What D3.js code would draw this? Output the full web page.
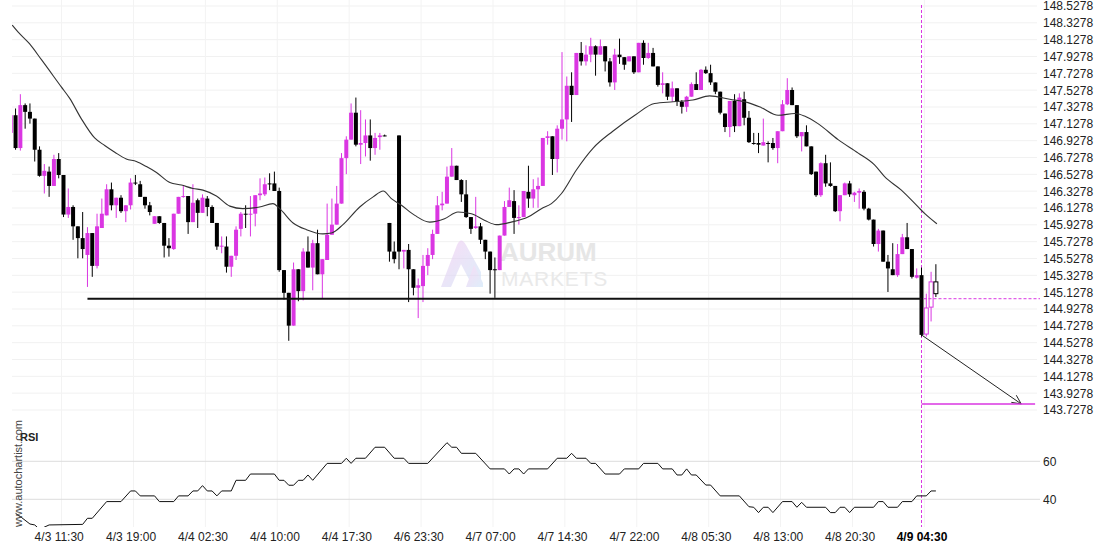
<!DOCTYPE html>
<html>
<head>
<meta charset="utf-8">
<script src="https://cdn.jsdelivr.net/npm/d3@7"></script>
<style>
body { margin: 0; background: #fff; }
svg { display: block; font-family: "Liberation Sans", Arial, sans-serif; }
</style>
</head>
<body>
<div id="chart"></div>
<script>
// 30 min candles, index 0 = first (clipped) candle on the left
const opens = [147.02,147.23,146.84,147.35,147.27,147.19,146.82,146.51,146.56,146.39,146.71,146.52,146.05,146.14,145.91,145.77,145.57,145.83,145.44,145.89,
146.04,146.35,146.16,146.25,146.09,146.16,146.43,146.41,146.26,146.16,145.94,146.03,145.95,145.68,145.64,146.06,146.26,146.27,145.96,146.22,
146.07,146.24,146.14,145.95,145.67,145.67,145.43,145.56,145.88,146.06,146.05,146.06,146.28,146.29,146.42,146.42,146.33,145.39,145.12,144.73,
145.40,145.14,145.61,145.42,145.71,145.34,145.51,145.81,145.93,146.18,146.72,146.94,147.26,146.88,146.90,146.99,146.84,146.97,146.99,145.95,
145.61,146.99,145.61,145.63,145.40,145.18,145.20,145.44,145.57,145.82,146.16,146.18,146.50,146.63,146.46,146.29,146.02,145.89,145.91,145.75,
145.61,145.40,145.39,145.80,146.14,146.21,146.01,146.02,146.32,146.24,146.35,146.39,146.96,146.98,146.71,147.07,147.18,147.58,147.47,147.97,
147.87,147.95,148.05,147.95,148.05,147.87,147.62,147.95,147.92,147.87,147.93,147.74,148.09,147.91,147.97,147.81,147.59,147.61,147.45,147.55,
147.39,147.33,147.45,147.60,147.53,147.77,147.73,147.62,147.51,147.25,147.09,147.40,147.10,147.42,147.20,146.90,146.90,146.87,146.90,146.90,
146.84,147.04,147.36,147.53,147.35,146.98,147.03,146.86,146.56,146.28,146.66,146.42,146.39,146.09,146.28,146.42,146.28,146.31,146.32,146.12,
145.99,145.70,145.86,145.49,145.40,145.33,145.58,145.78,145.64,145.30,145.33,144.63,144.95,145.25];
const highs = [147.25,147.31,147.48,147.37,147.37,147.19,146.86,146.65,146.62,146.76,146.78,146.52,146.36,146.16,145.91,146.08,145.90,145.83,146.06,146.24,
146.41,146.43,146.25,146.28,146.16,146.48,146.52,146.45,146.26,146.20,146.03,146.03,145.95,145.77,146.06,146.26,146.40,146.27,146.41,146.24,
146.29,146.27,146.16,145.95,145.79,145.79,145.56,145.91,146.08,146.16,146.27,146.28,146.48,146.49,146.54,146.56,146.37,145.39,145.12,145.48,
145.40,145.65,145.79,145.75,145.87,145.52,146.18,146.24,146.39,146.78,146.98,147.37,147.44,147.29,147.18,147.18,147.02,147.02,147.00,145.95,
145.73,146.99,145.63,145.70,145.40,145.29,145.57,145.65,145.87,146.27,146.32,146.62,146.84,146.63,146.47,146.46,146.02,146.26,145.95,145.75,
145.61,145.54,145.80,146.21,146.37,146.34,146.16,146.33,146.63,146.47,146.49,146.96,147.04,146.98,147.11,147.98,147.69,147.74,147.97,148.10,
148.06,148.15,148.06,148.13,148.05,147.91,148.02,148.14,147.92,147.93,147.93,148.09,148.12,148.09,148.03,147.81,147.74,147.61,147.63,147.55,
147.41,147.46,147.62,147.74,147.78,147.81,147.83,147.62,147.51,147.25,147.40,147.48,147.49,147.51,147.28,147.02,147.02,147.19,146.92,146.96,
147.04,147.41,147.67,147.56,147.35,147.03,147.11,146.86,146.56,146.67,146.76,146.67,146.39,146.28,146.43,146.45,146.32,146.36,146.34,146.13,
145.99,145.88,145.86,145.57,145.71,145.70,145.82,145.95,145.64,145.41,145.42,145.11,145.37,145.46];
const lows = [147.00,146.82,146.81,147.07,147.13,146.68,146.50,146.30,146.26,146.39,146.48,146.02,146.01,145.75,145.53,145.53,145.19,145.31,145.41,145.89,
146.04,146.10,146.01,146.07,145.96,146.11,146.40,146.26,146.12,146.04,145.94,145.94,145.54,145.55,145.63,146.06,146.25,145.82,145.96,145.89,
146.07,146.03,145.95,145.63,145.59,145.36,145.31,145.51,145.79,145.89,145.79,145.91,146.22,146.27,146.34,146.33,145.37,145.04,144.55,144.73,
145.02,145.03,145.42,145.15,145.34,145.05,145.51,145.81,145.93,146.18,146.53,146.94,146.86,146.65,146.74,146.69,146.76,146.82,146.98,145.49,
145.47,145.40,145.41,145.01,145.09,144.82,145.01,145.33,145.52,145.82,146.10,146.18,146.50,146.46,146.20,146.01,145.82,145.88,145.70,145.52,
145.11,145.06,145.39,145.80,146.14,145.82,145.93,146.02,146.13,146.13,146.13,146.39,146.88,146.52,146.55,146.94,146.92,147.15,147.47,147.82,
147.82,147.86,147.70,147.95,147.75,147.57,147.53,147.84,147.77,147.87,147.72,147.74,147.83,147.90,147.81,147.57,147.49,147.41,147.39,147.34,
147.25,147.27,147.45,147.53,147.53,147.72,147.59,147.48,147.24,147.03,146.97,147.03,147.10,147.11,146.90,146.88,146.78,146.87,146.67,146.82,
146.66,147.04,147.35,147.35,146.96,146.80,146.86,146.52,146.26,146.26,146.38,146.38,146.08,145.97,146.28,146.26,146.20,146.12,146.10,145.98,
145.67,145.61,145.49,145.13,145.33,145.31,145.58,145.64,145.29,145.29,144.60,144.60,144.78,145.07];
const closes = [147.23,146.84,147.35,147.27,147.19,146.82,146.51,146.57,146.39,146.71,146.52,146.05,146.14,145.91,145.77,145.64,145.83,145.44,145.91,146.06,
146.35,146.16,146.25,146.09,146.16,146.43,146.42,146.26,146.16,146.08,146.03,145.95,145.68,145.65,146.06,146.26,146.27,145.96,146.19,146.07,
146.25,146.14,145.95,145.67,145.68,145.43,145.56,145.87,146.06,146.05,146.06,146.28,146.30,146.41,146.41,146.33,145.39,145.12,144.73,145.40,
145.14,145.61,145.42,145.71,145.34,145.52,145.81,145.93,146.18,146.72,146.94,147.26,146.88,146.90,146.99,146.84,146.96,146.99,146.98,145.61,
145.52,145.61,145.63,145.40,145.18,145.21,145.44,145.57,145.82,146.16,146.18,146.50,146.63,146.46,146.29,146.02,145.88,145.91,145.75,145.61,
145.39,145.39,145.80,146.14,146.22,146.01,146.02,146.33,146.24,146.35,146.39,146.96,146.98,146.71,147.07,147.18,147.58,147.47,147.97,147.87,
147.95,148.05,147.95,148.05,147.87,147.62,147.95,147.92,147.83,147.93,147.74,148.09,147.91,147.97,147.81,147.59,147.61,147.45,147.55,147.39,
147.33,147.45,147.60,147.53,147.77,147.73,147.62,147.51,147.26,147.09,147.40,147.10,147.44,147.20,146.91,146.89,146.88,146.91,146.89,146.84,
147.04,147.36,147.53,147.35,146.98,147.03,146.86,146.53,146.28,146.66,146.42,146.39,146.09,146.28,146.42,146.29,146.31,146.33,146.12,145.99,
145.70,145.86,145.49,145.41,145.33,145.58,145.78,145.64,145.31,145.33,144.62,144.94,145.25,145.11];
const liveFrom = 191; // candles after the breakout, drawn hollow

// moving average: candle index / price
const maIdx = [0.3,1.5,3.9,6.4,10.5,12.3,14.7,17.5,19.6,21.7,24.1,26.2,28.3,30.4,33.2,35.6,38.0,40.1,42.9,45.7,48.4,51.9,54.7,56.1,58.9,61.7,65.1,66.9,69.3,72.8,
75.6,77.7,79.4,81.5,84.3,87.4,90.5,93.3,96.1,98.9,101.3,104.4,107.9,110.7,112.8,114.9,118.0,121.5,125.6,130.2,134.3,138.2,142.3,145.8,150.0,153.8,156.6,160.1,163.6,165.6,
168.4,172.6,176.8,180.2,182.3,185.8,189.3,190.7,193.2];
const maVal = [148.30,148.22,148.08,147.89,147.57,147.43,147.19,146.96,146.87,146.79,146.71,146.68,146.62,146.55,146.43,146.40,146.36,146.34,146.27,146.15,146.12,146.14,146.18,146.12,145.95,145.87,145.82,145.83,145.93,146.14,
146.26,146.33,146.24,146.16,146.04,145.96,146.00,146.08,146.06,145.98,145.93,145.96,146.02,146.12,146.18,146.30,146.58,146.84,147.04,147.23,147.37,147.39,147.41,147.46,147.42,147.38,147.32,147.23,147.25,147.22,
147.13,146.94,146.78,146.64,146.50,146.34,146.14,146.06,145.94];

// RSI vertices: candle index / value
const rsiIdx = [1,2,4,5,6,8,15,16,17,20,23,25,26,27,30,31,34,35,37,38,39,40,41,42,43,44,46,47,49,50,55,56,57,58,59,60,61,62,63,66,69,70,71,72,74,76,78,80,82,83,87,91,92,93,94,97,100,103,104,105,106,107,108,112,114,116,117,118,120,121,122,124,127,128,131,132,135,136,138,139,140,141,142,143,145,146,148,152,154,155,156,157,158,159,161,163,164,165,166,170,171,172,173,174,175,176,180,181,182,183,185,186,188,189,191,192,193];
const rsiVal = [32.6,30.9,27.0,26.5,24.2,26.5,26.8,30.0,30.0,38.8,38.8,44.4,44.4,41.8,41.8,38.8,38.8,41.8,41.8,44.4,44.4,47.2,44.4,44.4,41.8,44.4,44.4,50.0,50.0,53.3,53.3,50.0,50.0,47.4,47.4,50.0,50.0,52.8,50.0,58.9,58.9,61.6,58.9,61.6,61.6,67.4,67.4,61.6,61.6,58.9,58.9,69.8,67.4,67.4,64.2,64.2,56.0,56.0,53.3,56.0,56.0,53.3,56.0,56.0,61.6,61.6,64.2,61.6,61.6,58.9,58.9,53.3,53.3,56.0,56.0,58.9,58.9,56.0,56.0,52.8,52.8,56.0,52.8,52.8,47.5,47.5,41.8,41.8,36.1,35.8,33.0,35.8,35.8,33.0,38.8,38.8,35.8,38.4,35.8,35.8,33.0,33.0,35.8,35.8,33.0,35.8,35.8,38.8,38.8,35.8,35.8,38.8,38.8,41.8,41.8,44.4,44.4];

const timeLabels = ['4/3 11:30','4/3 19:00','4/4 02:30','4/4 10:00','4/4 17:30','4/6 23:30','4/7 07:00','4/7 14:30','4/7 22:00','4/8 05:30','4/8 13:00','4/8 20:30','4/9 04:30'];
const timeIdx = [10,25,40,55,70,85,100,115,130,145,160,175,190];
const priceTicks = [148.5278,148.3278,148.1278,147.9278,147.7278,147.5278,147.3278,147.1278,146.9278,146.7278,146.5278,146.3278,146.1278,145.9278,145.7278,145.5278,145.3278,145.1278,144.9278,144.7278,144.5278,144.3278,144.1278,143.9278,143.7278];
const rsiTicks = [40, 60];

// pattern
const supportLevel = 145.05, supportFrom = 16, breakIdx = 190;
const targetLevel = 143.80, arrowEndIdx = 210.8, targetEndIdx = 213.7;

const W = 1110, H = 550;
const left = 12, right = 1040;
const mainBottom = 420, rsiTop = 425, rsiBottom = 527;
const magenta = '#da36e2';

let x = d3.scaleLinear().domain([10, 190]).range([58.7, 921.5]);
let y = d3.scaleLinear().domain([143.7278, 148.5278]).range([410, 6]);
let yr = d3.scaleLinear().domain([40, 60]).range([499.3, 461.3]);

let svg = d3.select('#chart').append('svg').attr('width', W).attr('height', H);
let defs = svg.append('defs');
defs.append('clipPath').attr('id', 'clipMain').append('rect')
    .attr('x', left).attr('y', 0).attr('width', right - left).attr('height', mainBottom);
defs.append('clipPath').attr('id', 'clipRsi').append('rect')
    .attr('x', left).attr('y', rsiTop).attr('width', right - left).attr('height', rsiBottom - rsiTop);
let grad = defs.append('linearGradient').attr('id', 'logoGrad')
    .attr('x1', '0%').attr('y1', '0%').attr('x2', '100%').attr('y2', '100%');
grad.append('stop').attr('offset', '0%').attr('stop-color', '#f2c4ef');
grad.append('stop').attr('offset', '100%').attr('stop-color', '#c9e4f8');

// grid
svg.append('g').selectAll('line').data(priceTicks).enter().append('line')
    .attr('x1', left).attr('x2', right - 3)
    .attr('y1', d => y(d)).attr('y2', d => y(d))
    .attr('stroke', '#f1f1f1');
svg.append('g').selectAll('line').data(timeIdx).enter().append('line')
    .attr('x1', d => x(d + 0.6)).attr('x2', d => x(d + 0.6))
    .attr('y1', 0).attr('y2', rsiBottom)
    .attr('stroke', '#f3f3f3');
svg.append('g').selectAll('line').data(rsiTicks).enter().append('line')
    .attr('x1', left).attr('x2', right)
    .attr('y1', d => yr(d)).attr('y2', d => yr(d))
    .attr('stroke', '#dcdcdc');

// watermark
let wm = svg.append('g').attr('opacity', 0.6);
wm.append('path')
    .attr('d', 'M441,287 L457,245 Q461,236 466,245 L481,272 L481,287 L473,287 L461,264 L451,287 Z')
    .attr('fill', 'url(#logoGrad)');
wm.append('path')
    .attr('d', 'M466,287 L474,265 L483,283 L483,287 Z')
    .attr('fill', 'url(#logoGrad)');
svg.append('text').attr('x', 500).attr('y', 261).text('AURUM')
    .attr('font-size', 26).attr('font-weight', 'bold').attr('fill', '#e6e6e6');
svg.append('text').attr('x', 501).attr('y', 286).text('MARKETS')
    .attr('font-size', 21).attr('fill', '#e9e9e9').attr('letter-spacing', 0.8);

// breakout marker, behind the candles
svg.append('line')
    .attr('x1', x(breakIdx)).attr('x2', x(breakIdx))
    .attr('y1', 5).attr('y2', rsiBottom)
    .attr('stroke', magenta).attr('stroke-width', 1).attr('stroke-dasharray', '3,2');

// candles
let candles = d3.range(opens.length).map(i => ({
    i: i, o: opens[i], h: highs[i], l: lows[i], c: closes[i],
    up: closes[i] >= opens[i], live: i >= liveFrom
}));
let cg = svg.append('g').attr('clip-path', 'url(#clipMain)');
cg.selectAll('line.wick').data(candles).enter().append('line')
    .attr('class', 'wick')
    .attr('x1', d => x(d.i)).attr('x2', d => x(d.i))
    .attr('y1', d => y(d.h)).attr('y2', d => y(d.l))
    .attr('stroke', d => d.up ? magenta : '#000').attr('stroke-width', 1);
cg.selectAll('rect.body').data(candles).enter().append('rect')
    .attr('class', 'body')
    .attr('x', d => x(d.i) - 2).attr('width', 4)
    .attr('y', d => y(Math.max(d.o, d.c)))
    .attr('height', d => Math.max(1, Math.abs(y(d.o) - y(d.c))))
    .attr('fill', d => d.live ? '#fff' : (d.up ? magenta : '#000'))
    .attr('stroke', d => d.live ? (d.up ? magenta : '#000') : 'none')
    .attr('stroke-width', 1);

// moving average
let maLine = d3.line().x(d => x(d[0])).y(d => y(d[1])).curve(d3.curveMonotoneX);
cg.append('path').datum(maIdx.map((d, i) => [d, maVal[i]]))
    .attr('d', maLine).attr('fill', 'none').attr('stroke', '#333').attr('stroke-width', 1.1);

// support line
svg.append('line')
    .attr('x1', x(supportFrom)).attr('x2', x(breakIdx))
    .attr('y1', y(supportLevel)).attr('y2', y(supportLevel))
    .attr('stroke', '#111').attr('stroke-width', 2);
svg.append('line')
    .attr('x1', x(breakIdx) + 2).attr('x2', right)
    .attr('y1', y(supportLevel)).attr('y2', y(supportLevel))
    .attr('stroke', magenta).attr('stroke-width', 1).attr('stroke-dasharray', '3,2');

// forecast arrow and target
let ax0 = x(breakIdx), ay0 = y(closes[breakIdx]);
let ax1 = x(arrowEndIdx), ay1 = y(targetLevel);
svg.append('line').attr('x1', ax0).attr('y1', ay0).attr('x2', ax1).attr('y2', ay1)
    .attr('stroke', '#222').attr('stroke-width', 1);
let ang = Math.atan2(ay1 - ay0, ax1 - ax0);
[-0.45, 0.45].forEach(function (a) {
    svg.append('line').attr('x1', ax1).attr('y1', ay1)
        .attr('x2', ax1 - 10 * Math.cos(ang + a)).attr('y2', ay1 - 10 * Math.sin(ang + a))
        .attr('stroke', '#222').attr('stroke-width', 1);
});
svg.append('line')
    .attr('x1', x(breakIdx)).attr('x2', x(targetEndIdx))
    .attr('y1', y(targetLevel)).attr('y2', y(targetLevel))
    .attr('stroke', magenta).attr('stroke-width', 1.5);

// RSI
let rsiLine = d3.line().x(d => x(d[0])).y(d => yr(d[1]));
svg.append('g').attr('clip-path', 'url(#clipRsi)').append('path')
    .datum(rsiIdx.map((d, i) => [d, rsiVal[i]]))
    .attr('d', rsiLine).attr('fill', 'none').attr('stroke', '#111').attr('stroke-width', 1);
svg.append('text').attr('x', 20).attr('y', 441).text('RSI')
    .attr('font-size', 11).attr('font-weight', 'bold').attr('fill', '#222');

// axes
let yAxis = svg.append('g').attr('transform', 'translate(' + (right + 1) + ',0)')
    .call(d3.axisRight(y).tickValues(priceTicks).tickFormat(d3.format('.4f')).tickSize(0).tickPadding(2));
let rAxis = svg.append('g').attr('transform', 'translate(' + (right + 1) + ',0)')
    .call(d3.axisRight(yr).tickValues(rsiTicks).tickSize(0).tickPadding(2));
let xAxis = svg.append('g').attr('transform', 'translate(0,' + (rsiBottom + 1) + ')')
    .call(d3.axisBottom(x).tickValues(timeIdx).tickFormat((d, i) => timeLabels[i]).tickSize(0).tickPadding(4));
[yAxis, rAxis, xAxis].forEach(function (g) {
    g.select('.domain').remove();
    g.selectAll('text').attr('font-size', 12).attr('fill', '#222')
        .attr('font-family', '"Liberation Sans", Arial, sans-serif');
});
xAxis.selectAll('.tick').filter(d => d === 190).select('text').attr('font-weight', 'bold').attr('fill', '#000');

// site name, vertical
svg.append('text').attr('transform', 'translate(22,527) rotate(-90)')
    .text('www.autochartist.com').attr('font-size', 11).attr('fill', '#444');
</script>
</body>
</html>
